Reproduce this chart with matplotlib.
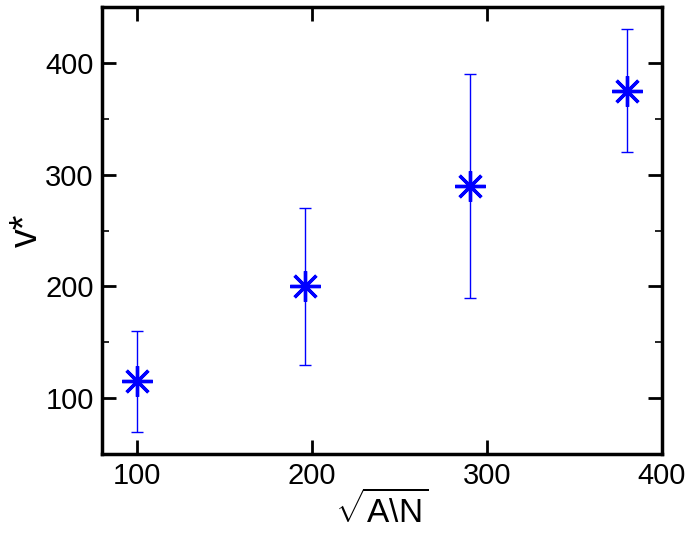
import numpy as np
import matplotlib
matplotlib.use('Agg')
import matplotlib.pyplot as plt
from matplotlib.ticker import MultipleLocator

plt.rcParams['font.family'] = ['Liberation Sans', 'DejaVu Sans']
plt.rcParams['mathtext.fontset'] = 'custom'
plt.rcParams['mathtext.rm'] = 'Liberation Sans'
plt.rcParams['mathtext.it'] = 'Liberation Sans'

# data
x_vals = [100, 196, 290, 380]
v_star = [115, 200, 290, 375]
err_low = [70, 130, 190, 320]
err_high = [160, 270, 390, 430]

x = np.array(x_vals)
y = np.array(v_star)
yerr = [y - np.array(err_low), np.array(err_high) - y]

fig = plt.figure(figsize=(6.89, 5.35), dpi=100)
ax = fig.add_axes([102 / 689, 1 - 454 / 535, 560 / 689, 447 / 535])

ax.errorbar(x, y, yerr=yerr, fmt='none', ecolor='blue', elinewidth=1.0,
            capsize=4.5, capthick=1.0)
ax.plot(x, y, linestyle='none', marker=(8, 2, 0), markersize=22,
        markeredgecolor='blue', markeredgewidth=2.4)

ax.set_xlim(80, 400)
ax.set_ylim(50, 450)
ax.xaxis.set_major_locator(MultipleLocator(100))
ax.yaxis.set_major_locator(MultipleLocator(100))
ax.yaxis.set_minor_locator(MultipleLocator(50))

for s in ax.spines.values():
    s.set_linewidth(2.5)
ax.tick_params(which='both', direction='in', top=True, right=True, labelsize=21,
               width=2.0, pad=6)
ax.tick_params(which='major', length=10)
ax.tick_params(which='minor', length=5, width=1.2)

ax.set_xlabel(r'$\sqrt{\mathrm{A\backslash N}}$', fontsize=24, labelpad=0)
ax.set_ylabel('v*', fontsize=27, labelpad=0)

fig.savefig('out.png', dpi=100)
